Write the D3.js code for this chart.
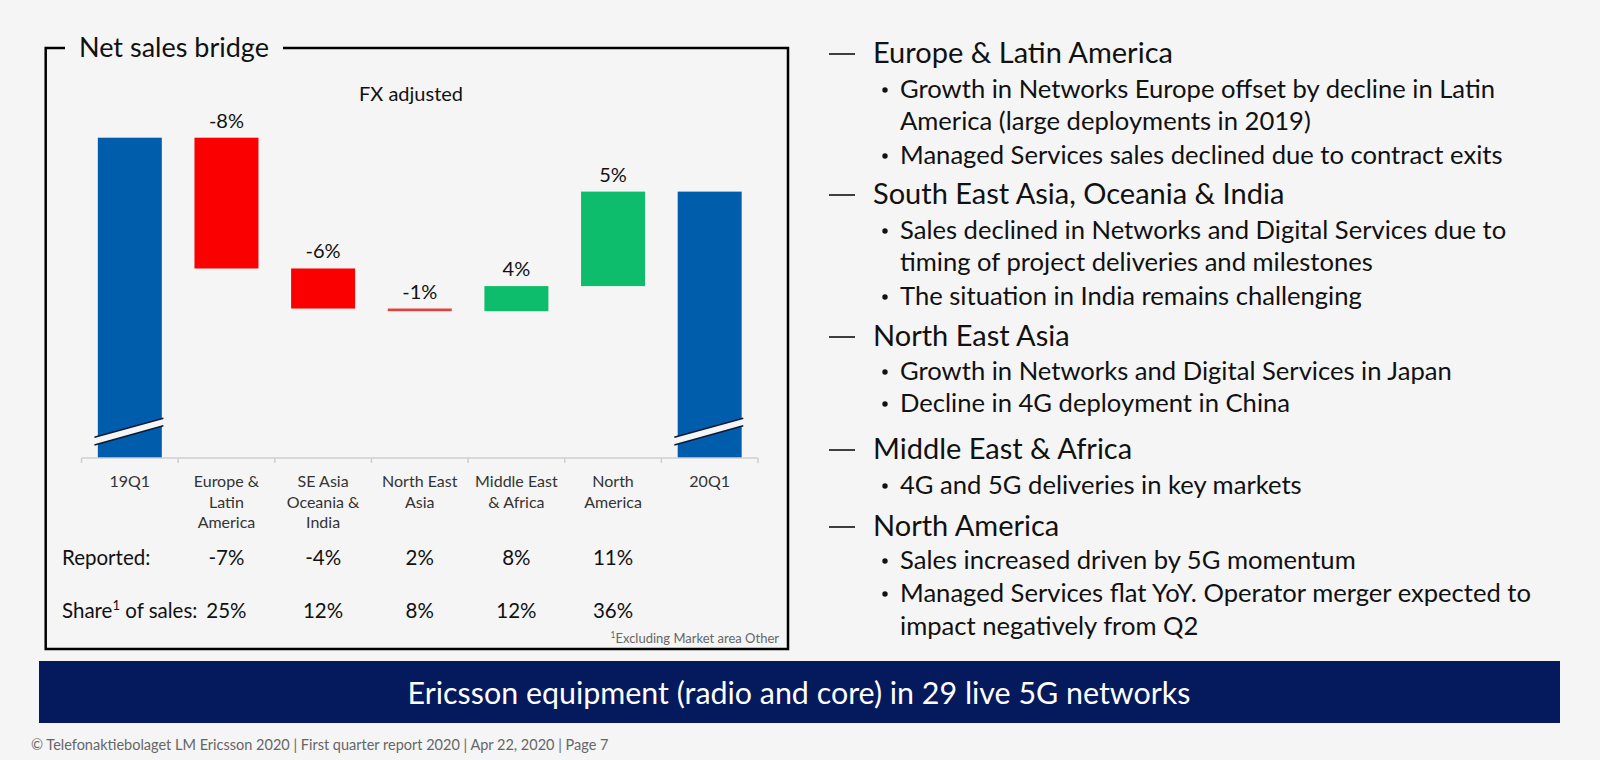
<!DOCTYPE html>
<html>
<head>
<meta charset="utf-8">
<script src="https://cdn.jsdelivr.net/npm/d3@7"></script>
<style>
  html, body { margin: 0; padding: 0; background: #f5f5f5; }
  svg { display: block; font-family: Lato, "Open Sans", sans-serif; }
</style>
</head>
<body>
<div id="chart"></div>
<script>
// --- chart data ---
var categories = [["19Q1"], ["Europe &", "Latin", "America"], ["SE Asia", "Oceania &", "India"],
                  ["North East", "Asia"], ["Middle East", "& Africa"], ["North", "America"], ["20Q1"]];
var startValue = 100;            // 19Q1 index (axis is broken)
var deltas = [-2.45, -0.75, -0.05, 0.47, 1.77];   // contribution per market area
var fxLabels = ["-8%", "-6%", "-1%", "4%", "5%"];
var reported = ["-7%", "-4%", "2%", "8%", "11%"];
var shareOfSales = ["25%", "12%", "8%", "12%", "36%"];

// --- right hand text ---
var headings = ["Europe & Latin America", "South East Asia, Oceania & India", "North East Asia",
                "Middle East & Africa", "North America"];
var headingY = [63, 204, 346, 459, 536];
var bullets = [
  [["Growth in Networks Europe offset by decline in Latin", "America (large deployments in 2019)"],
   ["Managed Services sales declined due to contract exits"]],
  [["Sales declined in Networks and Digital Services due to", "timing of project deliveries and milestones"],
   ["The situation in India remains challenging"]],
  [["Growth in Networks and Digital Services in Japan"], ["Decline in 4G deployment in China"]],
  [["4G and 5G deliveries in key markets"]],
  [["Sales increased driven by 5G momentum"],
   ["Managed Services flat YoY. Operator merger expected to", "impact negatively from Q2"]]
];
var bulletY = [
  [[98, 130], [164]],
  [[239, 271], [305]],
  [[380], [412]],
  [[494]],
  [[569], [602, 635]]
];

var W = 1600, H = 760;
var blue = "#005dac", red = "#fa0000", green = "#0dbd6b", thinRed = "#e2403a";

var svg = d3.select("#chart").append("svg")
  .attr("width", W).attr("height", H)
  .attr("viewBox", "0 0 " + W + " " + H);

svg.append("rect").attr("width", W).attr("height", H).attr("fill", "#f5f5f5");

// frame with title
svg.append("path")
  .attr("d", "M65,48H45.7V649H788V48H283")
  .attr("fill", "none").attr("stroke", "#000").attr("stroke-width", 2.5);
svg.append("text").attr("x", 79).attr("y", 57)
  .attr("font-size", 27).attr("fill", "#111").text("Net sales bridge");

svg.append("text").attr("x", 411).attr("y", 101).attr("text-anchor", "middle")
  .attr("font-size", 20).attr("fill", "#111").text("FX adjusted");

// build waterfall rows
var rows = [];
var run = startValue;
rows.push({i: 0, y0: 94, y1: startValue, type: "total"});
deltas.forEach(function(d, k) {
  var a = run, b = run + d;
  rows.push({i: k + 1, y0: Math.min(a, b), y1: Math.max(a, b), delta: d, type: d < 0 ? "neg" : "pos", label: fxLabels[k]});
  run = b;
});
rows.push({i: 6, y0: 94, y1: run, type: "total"});

var x = d3.scaleBand().domain(d3.range(categories.length))
  .range([81.5, 758]).paddingInner(0.338).paddingOuter(0.169);
var y = d3.scaleLinear().domain([94, 100]).range([458, 137.7]);

function fillOf(r) {
  if (r.type == "total") return blue;
  if (r.type == "pos") return green;
  return Math.abs(r.delta) < 0.1 ? thinRed : red;
}

svg.selectAll("rect.bar").data(rows).enter().append("rect")
  .attr("class", "bar")
  .attr("x", function(d) { return x(d.i); })
  .attr("width", x.bandwidth())
  .attr("y", function(d) { return y(d.y1); })
  .attr("height", function(d) { return y(d.y0) - y(d.y1); })
  .attr("fill", fillOf);

// value labels
svg.selectAll("text.val").data(rows.filter(function(d) { return d.label; })).enter().append("text")
  .attr("class", "val")
  .attr("x", function(d) { return x(d.i) + x.bandwidth() / 2; })
  .attr("y", function(d) { return y(d.y1) - 10; })
  .attr("text-anchor", "middle").attr("font-size", 20).attr("fill", "#111")
  .text(function(d) { return d.label; });

// axis break marks on the total bars
var base = y(94);
rows.filter(function(d) { return d.type == "total"; }).forEach(function(d) {
  var x0 = x(d.i) - 3.4, x1 = x(d.i) + x.bandwidth() + 1.6;
  svg.append("path")
    .attr("d", "M" + x0 + "," + (base - 20.7) + "L" + x1 + "," + (base - 39.7) +
               "L" + x1 + "," + (base - 32.3) + "L" + x0 + "," + (base - 13) + "Z")
    .attr("fill", "#f5f5f5");
  [[20.7, 39.7], [13, 32.3]].forEach(function(p) {
    svg.append("line").attr("x1", x0).attr("y1", base - p[0]).attr("x2", x1).attr("y2", base - p[1])
      .attr("stroke", "#0b1a3a").attr("stroke-width", 1.6);
  });
});

// category axis
var axis = svg.append("g").attr("transform", "translate(0," + base + ")");
axis.append("line").attr("x1", 81.5).attr("x2", 758).attr("stroke", "#cfcfcf").attr("stroke-width", 1.5);
axis.selectAll("line.tick").data(d3.range(categories.length + 1)).enter().append("line")
  .attr("class", "tick")
  .attr("x1", function(i) { return 81.5 + i * x.step(); })
  .attr("x2", function(i) { return 81.5 + i * x.step(); })
  .attr("y1", 0).attr("y2", 5).attr("stroke", "#cfcfcf").attr("stroke-width", 1.5);

var cat = svg.selectAll("text.cat").data(categories).enter().append("text")
  .attr("class", "cat")
  .attr("x", function(d, i) { return x(i) + x.bandwidth() / 2; })
  .attr("y", 487).attr("text-anchor", "middle").attr("font-size", 16).attr("fill", "#333");
cat.selectAll("tspan").data(function(d) { return d; }).enter().append("tspan")
  .attr("x", function() { return d3.select(this.parentNode).attr("x"); })
  .attr("dy", function(d, j) { return j ? 20.5 : 0; })
  .text(function(d) { return d; });

// table rows
svg.append("text").attr("x", 62).attr("y", 565).attr("font-size", 20.5).attr("fill", "#111").text("Reported:");
var share = svg.append("text").attr("x", 62).attr("y", 618).attr("font-size", 20.5).attr("fill", "#111");
share.append("tspan").text("Share");
share.append("tspan").attr("font-size", 13).attr("dy", -8).text("1");
share.append("tspan").attr("dy", 8).text(" of sales:");

svg.selectAll("text.rep").data(reported).enter().append("text")
  .attr("class", "rep")
  .attr("x", function(d, i) { return x(i + 1) + x.bandwidth() / 2; })
  .attr("y", 565).attr("text-anchor", "middle").attr("font-size", 20.5).attr("fill", "#111")
  .text(function(d) { return d; });
svg.selectAll("text.shr").data(shareOfSales).enter().append("text")
  .attr("class", "shr")
  .attr("x", function(d, i) { return x(i + 1) + x.bandwidth() / 2; })
  .attr("y", 618).attr("text-anchor", "middle").attr("font-size", 20.5).attr("fill", "#111")
  .text(function(d) { return d; });

var fn = svg.append("text").attr("x", 779).attr("y", 643).attr("text-anchor", "end")
  .attr("font-size", 13).attr("fill", "#666");
fn.append("tspan").attr("font-size", 8.5).attr("dy", -5).text("1");
fn.append("tspan").attr("dy", 5).text("Excluding Market area Other");

// right side text
headings.forEach(function(h, k) {
  svg.append("line").attr("x1", 829).attr("x2", 855)
    .attr("y1", headingY[k] - 9).attr("y2", headingY[k] - 9)
    .attr("stroke", "#111").attr("stroke-width", 1.6);
  svg.append("text").attr("x", 873).attr("y", headingY[k])
    .attr("font-size", 29).attr("fill", "#111").text(h);
  bullets[k].forEach(function(lines, b) {
    svg.append("circle").attr("cx", 885).attr("cy", bulletY[k][b][0] - 8).attr("r", 2.7).attr("fill", "#111");
    lines.forEach(function(t, l) {
      svg.append("text").attr("x", 900).attr("y", bulletY[k][b][l])
        .attr("font-size", 25.6).attr("fill", "#111").text(t);
    });
  });
});

// banner
svg.append("rect").attr("x", 39).attr("y", 661).attr("width", 1521).attr("height", 62).attr("fill", "#041a5c");
svg.append("text").attr("x", 799).attr("y", 704).attr("text-anchor", "middle")
  .attr("font-size", 30.4).attr("fill", "#fff")
  .text("Ericsson equipment (radio and core) in 29 live 5G networks");

// footer
svg.append("text").attr("x", 31).attr("y", 750).attr("font-size", 14.5).attr("fill", "#666")
  .text("© Telefonaktiebolaget LM Ericsson 2020  |  First quarter report 2020  |  Apr 22, 2020  |  Page 7");
</script>
</body>
</html>
